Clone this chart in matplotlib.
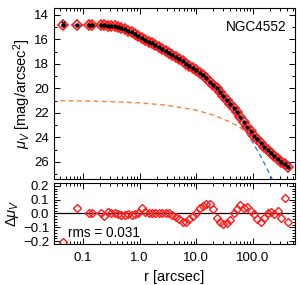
import matplotlib
matplotlib.use("Agg")
import matplotlib.pyplot as plt
from matplotlib.ticker import MultipleLocator, FixedLocator, LogLocator, NullFormatter

plt.rcParams['font.family'] = ['Liberation Sans', 'DejaVu Sans']
plt.rcParams['mathtext.fontset'] = 'custom'
plt.rcParams['mathtext.rm'] = 'Liberation Sans'
plt.rcParams['mathtext.it'] = 'Liberation Sans:italic'

# surface brightness profile (data)
r = [0.045, 0.079, 0.13, 0.145,
     0.209, 0.240, 0.275, 0.316, 0.363, 0.417, 0.479, 0.550, 0.631, 0.724,
     0.832, 0.955, 1.10, 1.26, 1.45, 1.66, 1.91, 2.19, 2.51, 2.88,
     3.31, 3.80, 4.37, 5.01, 5.75, 6.61, 7.59, 8.71, 10.0, 11.5,
     13.2, 15.1, 17.4, 20.0, 22.9, 26.3, 30.2, 34.7, 39.8, 45.7,
     52.5, 60.3, 69.2, 79.4, 91.2, 105, 120, 138, 158, 182,
     209, 240, 275, 316, 363, 417]
mu = [14.80, 14.82, 14.84, 14.84,
      14.85, 14.86, 14.87, 14.88, 14.91, 14.95, 15.03, 15.15, 15.29, 15.43,
      15.57, 15.72, 15.87, 16.02, 16.17, 16.32, 16.47, 16.63, 16.79, 16.95,
      17.11, 17.28, 17.45, 17.62, 17.79, 17.97, 18.15, 18.34, 18.53, 18.73,
      18.94, 19.18, 19.44, 19.71, 20.00, 20.30, 20.61, 20.93, 21.26, 21.60,
      21.95, 22.35, 22.75, 23.13, 23.50, 23.85, 24.17, 24.47, 24.76, 25.04,
      25.30, 25.55, 25.78, 25.99, 26.20, 26.42]
dmu = [-0.205, 0.043, 0.0, 0.0,
       0.0, -0.015, 0.01, 0.005, 0.0, -0.005, -0.01, -0.012, -0.005, -0.01,
       -0.005, 0.0, 0.04, 0.01, 0.005, 0.0, 0.005, 0.0, 0.005, 0.005,
       0.0, -0.01, -0.025, -0.04, -0.06, -0.06, -0.04, -0.02, 0.0, 0.04,
       0.055, 0.065, 0.068, 0.03, -0.03, -0.065, -0.078, -0.07, -0.045, 0.0,
       0.035, 0.06, 0.04, 0.05, 0.015, -0.005, -0.04, -0.06, -0.03, 0.0,
       0.01, -0.005, 0.015, -0.035, 0.11, -0.06]

# offset point of the innermost bin
r_in = [0.045]
mu_in = [14.63]

# inner component (blue dashed)
r_inner = [0.045, 0.1, 0.2, 0.3, 0.4, 0.5, 0.7, 1.0, 2.0, 4.0, 7.0, 10.0,
           15.0, 20.0, 30.0, 45.0, 60.0, 80.0, 100.0, 130.0, 160.0, 200.0, 240.0]
mu_inner = [14.84, 14.85, 14.86, 14.89, 14.95, 15.06, 15.40, 15.78, 16.55, 17.30,
            17.95, 18.50, 19.22, 19.78, 20.80, 21.95, 22.85, 23.75, 24.45, 25.35,
            26.15, 27.05, 27.8]

# outer component (orange dashed)
r_outer = [0.04, 0.1, 0.3, 1.0, 3.0, 10.0, 20.0, 40.0, 60.0, 90.0, 130.0,
           180.0, 250.0, 350.0, 450.0]
mu_outer = [21.0, 21.03, 21.08, 21.18, 21.37, 21.78, 22.18, 22.75, 23.22, 23.72,
            24.25, 24.9, 25.62, 26.25, 26.75]

red = '#ff1a1a'
blue = '#3a7dff'
orange = '#ff8040'

fig = plt.figure(figsize=(3.0, 2.85), dpi=100)
ax1 = fig.add_axes([0.18, 0.372, 0.803, 0.6])
ax2 = fig.add_axes([0.18, 0.144, 0.803, 0.214])

# --- top panel
ax1.plot(r_inner, mu_inner, color=blue, lw=1.0, ls=(0, (3.5, 2.5)))
ax1.plot(r_outer, mu_outer, color=orange, lw=1.0, ls=(0, (3.5, 2.5)))
ax1.plot(r, mu, ls='none', marker='D', ms=5.0, mfc='none', mec=red, mew=1.2)
ax1.plot(r, mu, ls='none', marker='o', ms=2.2, color='black')
ax1.plot(r_in, mu_in, ls='none', marker='x', ms=3.0, mew=0.9, color='black')

ax1.set_xscale('log')
ax1.set_xlim(0.031, 550)
ax1.set_ylim(27.4, 13.43)
ax1.yaxis.set_major_locator(MultipleLocator(2))
ax1.yaxis.set_minor_locator(MultipleLocator(1))
ax1.xaxis.set_major_formatter(NullFormatter())
ax1.set_ylabel(r'$\mu_V$ [mag/arcsec$^2$]', fontsize=10.5, labelpad=1)
ax1.text(0.963, 0.889, 'NGC4552', transform=ax1.transAxes, ha='right',
         va='center', fontsize=9.8)

# --- residual panel
ax2.axhline(0.0, color='black', lw=0.9)
ax2.plot(r, dmu, ls='none', marker='D', ms=4.2, mfc='none', mec=red, mew=1.0)
ax2.set_xscale('log')
ax2.set_xlim(0.031, 550)
ax2.set_ylim(-0.22, 0.22)
ax2.yaxis.set_major_locator(FixedLocator([-0.2, -0.1, 0.0, 0.1, 0.2]))
ax2.yaxis.set_minor_locator(MultipleLocator(0.02))
ax2.set_yticklabels(['\u22120.2', '\u22120.1', '0.0', '0.1', '0.2'])
ax2.xaxis.set_major_locator(FixedLocator([0.1, 1.0, 10.0, 100.0]))
ax2.set_xticklabels(['0.1', '1.0', '10.0', '100.0'])
ax2.set_ylabel(r'$\Delta\mu_V$', fontsize=10.5, labelpad=1)
ax2.set_xlabel('r [arcsec]', fontsize=10.5, labelpad=4)
ax2.text(0.058, 0.185, 'rms = 0.031', transform=ax2.transAxes, ha='left',
         va='center', fontsize=9.8)

for ax in (ax1, ax2):
    ax.xaxis.set_minor_locator(LogLocator(base=10, subs=range(2, 10), numticks=20))
    ax.xaxis.set_minor_formatter(NullFormatter())
    ax.tick_params(which='both', direction='in', top=True, right=True,
                   labelsize=9.5, width=0.7)
    ax.tick_params(which='major', length=4.5)
    ax.tick_params(which='minor', length=2.2)
    for s in ax.spines.values():
        s.set_linewidth(0.8)
ax2.tick_params(axis='x', which='major', pad=6)

plt.savefig('out.png', dpi=100)
